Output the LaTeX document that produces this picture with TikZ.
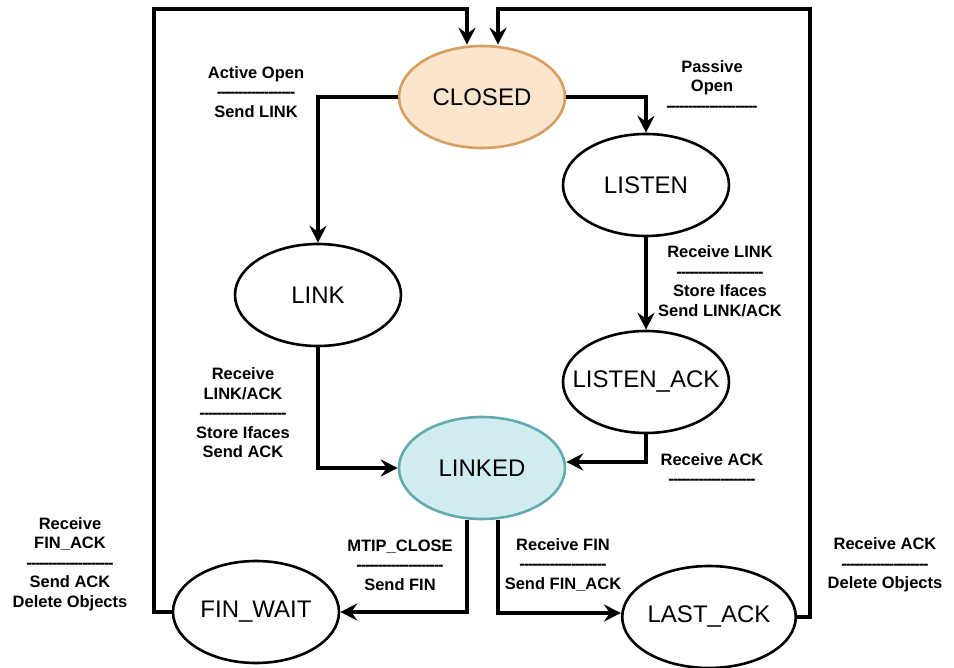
\documentclass[tikz,border=0pt]{standalone}
\usepackage{fontspec}
\usetikzlibrary{arrows.meta,shapes.geometric}
\newfontfamily\lblfont{Liberation Sans}
\definecolor{closedfill}{RGB}{251,229,205}
\definecolor{closedline}{RGB}{214,158,96}
\definecolor{linkedfill}{RGB}{208,236,238}
\definecolor{linkedline}{RGB}{98,170,176}
% a row of hyphens of the given width (pt), used as the separator in labels
\newcommand\sepline[1]{\hbox to #1pt{\cleaders\hbox{\kern-0.6pt-\kern-0.6pt}\hfill}}
\tikzset{
  state/.style={ellipse, draw=black, line width=2.6pt, fill=white,
    minimum width=166pt, minimum height=102pt, inner sep=0pt,
    font=\lblfont\fontsize{24}{28}\selectfont},
  flow/.style={draw=black, line width=3.2pt,
    -{Stealth[length=17pt, width=17pt, inset=6pt]}},
  lbl/.style={align=center, inner sep=0pt,
    font=\lblfont\bfseries\fontsize{16.5}{19.5}\selectfont}
}
\begin{document}
\begin{tikzpicture}[x=1pt, y=-1pt]
\useasboundingbox (0,0) rectangle (954,668);

% states
\node[state, fill=closedfill, draw=closedline] (closed) at (482,97) {CLOSED};
\node[state] (listen)    at (646,185) {LISTEN};
\node[state] (link)      at (318,295) {LINK};
\node[state, inner xsep=-15pt] (listenack) at (646,382) {LISTEN\_ACK};
\node[state, fill=linkedfill, draw=linkedline] (linked) at (482,468) {LINKED};
\node[state] (finwait)   at (256,612) {FIN\_WAIT};
\node[state] (lastack)   at (709,617) {LAST\_ACK};

% corners of the two return paths
\coordinate (tl) at (154,9);
\coordinate (tr) at (810,9);

% transitions
\draw[flow] (closed.west) -| (link.north);
\draw[flow] (closed.east) -| (listen.north);
\draw[flow] (listen.south) -- (listenack.north);
\draw[flow] (link.south) |- (linked.west);
\draw[flow] (listenack.south) |- ([yshift=6pt]linked.east);
\draw[flow] ([xshift=-15pt]linked.south) |- (finwait.east);
\draw[flow] ([xshift=16pt]linked.south) |- ([yshift=4pt]lastack.west);
\draw[flow] (finwait.west) -| (tl) -| ([xshift=-15pt]closed.north);
\draw[flow] (lastack.east) -| (tr) -| ([xshift=16pt]closed.north);

% transition labels
\node[lbl] (lActive)  at (256,92)  {Active Open\\\sepline{78}\\Send LINK};
\node[lbl] (lPassive) at (712,86)  {Passive\\Open\\\sepline{93}};
\node[lbl] (lRecLink) at (720,281) {Receive LINK\\\sepline{87}\\Store Ifaces\\Send LINK/ACK};
\node[lbl] (lRecLA)   at (243,413) {Receive\\LINK/ACK\\\sepline{88}\\Store Ifaces\\Send ACK};
\node[lbl] (lRecAck)  at (712,469) {Receive ACK\\\sepline{89}};
\node[lbl] (lFinAck)  at (70,564)  {Receive\\FIN\_ACK\\\sepline{88}\\Send ACK\\Delete Objects};
\node[lbl] (lClose)   at (400,565) {MTIP\_CLOSE\\\sepline{88}\\Send FIN};
\node[lbl] (lRecFin)  at (563,565) {Receive FIN\\\sepline{87}\\Send FIN\_ACK};
\node[lbl] (lDelete)  at (885,565) {Receive ACK\\\sepline{88}\\Delete Objects};
\end{tikzpicture}
\end{document}
